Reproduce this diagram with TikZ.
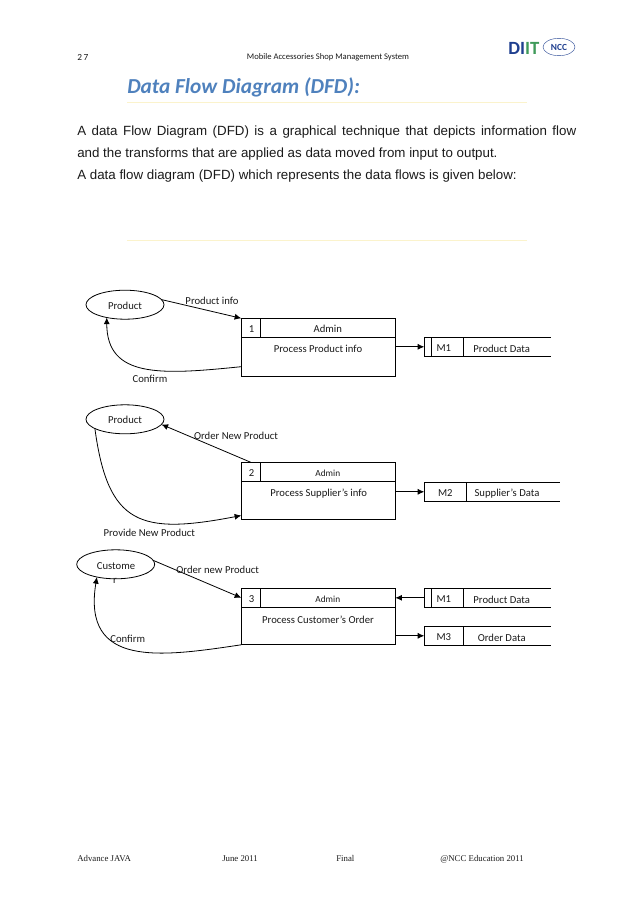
\documentclass[tikz,border=0pt]{standalone}
\usepackage{fontspec}
\setmainfont{Carlito}
\newfontfamily\bodyfont{Liberation Sans}
\newfontfamily\footfont{Liberation Serif}
\usetikzlibrary{arrows.meta,calc,shapes.geometric}
\definecolor{ink}{HTML}{1A1A1A}
\definecolor{titleblue}{HTML}{4F81BD}
\definecolor{rulegold}{HTML}{FBF3CC}
\definecolor{logonavy}{HTML}{1F3F8F}
\definecolor{logogreen}{HTML}{3F9A5A}
\tikzset{flow/.style={-{Latex[length=5pt,width=4.5pt]},line width=.6pt,black},
ent/.style={draw=black,line width=.6pt,ellipse,minimum width=58.5pt,minimum height=21.75pt,inner sep=0pt,outer sep=0pt},
cell/.style={draw=black,line width=.6pt,inner sep=0pt,outer sep=0pt,anchor=north west},
lab/.style={font=\fontsize{8}{9}\selectfont,text=ink,inner sep=0pt,yshift=-.75pt},
foot/.style={font=\footfont\fontsize{6.6}{9}\selectfont,text=ink,inner sep=0pt,anchor=base west}}
\begin{document}
\begin{tikzpicture}[x=.75pt,y=-.75pt]
\useasboundingbox (0,0) rectangle (638,903);
% page head
\node[lab,anchor=west,font=\fontsize{7}{8}\selectfont] (pageno) at (77,56) {2\,7};
\node[lab,font=\fontsize{6.45}{8}\selectfont] (pagehead) at (328,56) {Mobile Accessories Shop Management System};
\node[inner sep=0pt,font=\bfseries\fontsize{14}{14}\selectfont,text=logonavy,anchor=west] (diit) at (508,48) {DI\textcolor{logogreen}{IT}};
\node[ent,draw=logonavy,line width=.3pt,minimum width=24pt,minimum height=13pt,font=\bfseries\fontsize{7}{7}\selectfont,text=logonavy] (ncc) at (559,47) {NCC};
% title and text
\node[inner sep=0pt,anchor=west,text=titleblue,font=\bfseries\itshape\fontsize{16}{18}\selectfont] (title) at (127,87) {Data Flow Diagram (DFD):};
\fill[rulegold] (127,102) rectangle (527,103.2);
\fill[rulegold] (127,239.6) rectangle (527,240.8);
\node[anchor=north west,inner sep=0pt,text width=374.25pt,align=justify,text=ink,font=\bodyfont\fontsize{10}{16.3}\selectfont] (intro) at (77,126)
 {A data Flow Diagram (DFD) is a graphical technique that depicts information flow\linebreak and the transforms that are applied as data moved from input to output.\\
 A data flow diagram (DFD) which represents the data flows is given below:};
% process boxes
\foreach \n/\t/\bh/\adm/\txt/\tx in {1/318.3/29.25pt/8/Process Product info/318,
 2/462.3/28.5pt/7/Process Supplier’s info/318.7,
 3/588.3/28.1pt/7/Process Customer’s Order/318}
 {\node[cell,minimum width=14.25pt,minimum height=14.25pt] (p\n num) at (241.3,\t) {};
  \node[cell,minimum width=101.25pt,minimum height=14.25pt] (p\n head) at (p\n num.north east) {};
  \node[cell,minimum width=115.5pt,minimum height=\bh] (p\n body) at (p\n num.south west) {};
  \node[lab] (p\n id) at ($(p\n num.center)+(.8,0)$) {\n};
  \node[lab,font=\fontsize{\adm}{8}\selectfont] (p\n adm) at ($(p\n head.center)+(0,0)$) {Admin};
  \node[lab] (p\n txt) at ($(\tx,\t)+(0,30)$) {\txt};}
% data stores
\foreach \n/\t/\idw/\linew/\id/\lx/\txt in {m1/337.3/29.25pt/65.5pt/M1/501.7/Product Data,
 m2/482.3/31.5pt/70pt/M2/507/Supplier’s Data,
 m4/588.3/29.25pt/65.5pt/M1/501.7/Product Data,
 m3/626.3/29.25pt/65.5pt/M3/501.7/Order Data}
 {\node[cell,minimum width=\idw,minimum height=14.25pt,text height=6.6pt,font=\fontsize{8}{9}\selectfont,text=ink] (\n) at (424.3,\t) {\id};
  \node[lab] (\n txt) at ($(\lx,\t)+(0,10.6)$) {\txt};
  \draw[line width=.6pt] (\n.north east)--++(\linew,0) (\n.south east)--++(\linew,0);}
\foreach \n in {m1,m4}
 {\draw[line width=.6pt] ([xshift=5.25pt]\n.north west)--([xshift=5.25pt]\n.south west);}
% entities
\node[ent,lab,yshift=.75pt,text height=6.6pt] (prod1) at (125,304.7) {Product};
\node[ent,lab,yshift=.75pt,text height=6.6pt] (prod2) at (125,419.3) {Product};
\node[ent,lab,yshift=.75pt] (cust) at (115.7,564.3) {};
\node[lab] (custa) at (116,565) {Custome};
\node[lab] (custb) at (115,580) {r};
% flows
\draw[flow] (prod1.8)--(p1num.north west);
\draw[flow] (p1body.east|-m1.west)--(m1.west);
\draw[flow] ([yshift=-7.4pt]p1body.west) .. controls (160,375) and (107,378) .. (prod1.215);
\draw[flow] (p2num.north)--(prod2.-8);
\draw[flow] (p2body.east|-m2.west)--(m2.west);
\draw[flow] (prod2.197) .. controls (108,525) and (140,535) .. ([yshift=-11.4pt]p2body.west);
\draw[flow] (cust.6)--(p3num.west);
\draw[flow] (m4.west)--(m4.west-|p3head.east);
\draw[flow] (p3body.east|-m3.west)--(m3.west);
\draw[flow] (p3body.south west) .. controls (160,657) and (82,668) .. (cust.214);
% flow labels
\node[lab] (lab1a) at (212,300) {Product info};
\node[lab] (lab1b) at (150,378) {Confirm};
\node[lab] (lab2a) at (236,434.7) {Order New Product};
\node[lab] (lab2b) at (149.3,531.7) {Provide New Product};
\node[lab] (lab3a) at (217.7,569.3) {Order new Product};
\node[lab] (lab3b) at (127.7,637.7) {Confirm};
% page foot
\node[foot] (foota) at (77,861.5) {Advance JAVA};
\node[foot] (footb) at (222,861.5) {June 2011};
\node[foot] (footc) at (336,861.5) {Final};
\node[foot] (footd) at (440,861.5) {@NCC Education 2011};
\end{tikzpicture}
\end{document}
